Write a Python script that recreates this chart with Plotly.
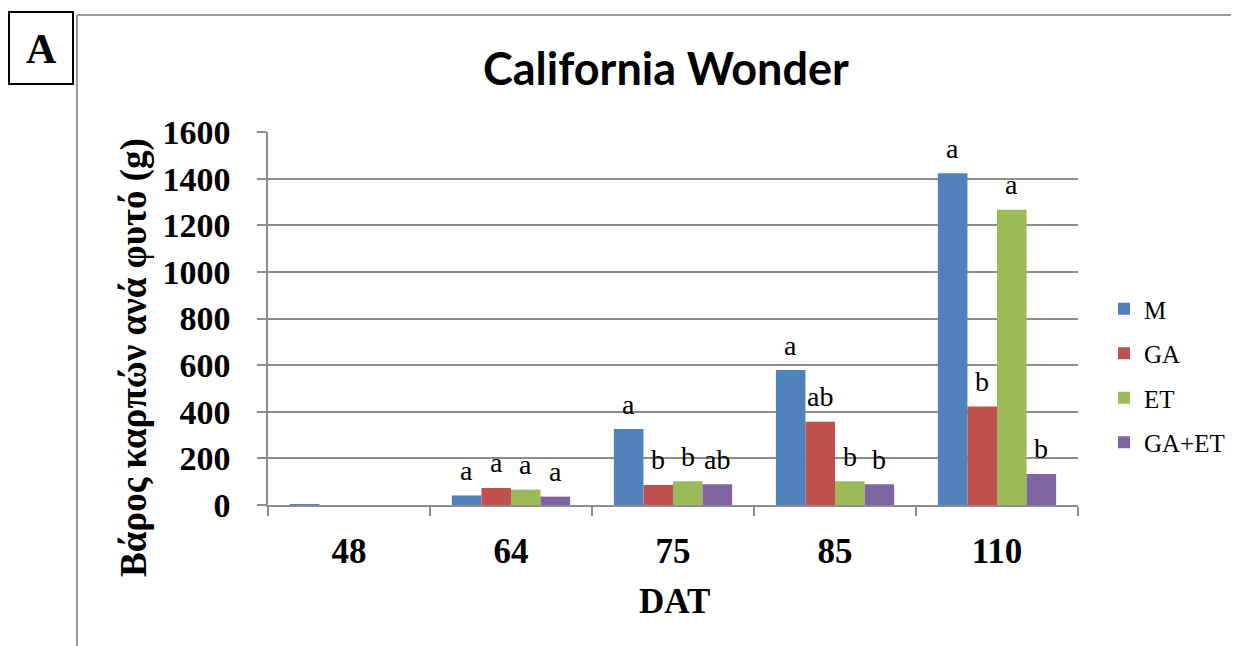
import plotly.graph_objects as go

# ---- data ----
categories = ["48", "64", "75", "85", "110"]
series_names = ["M", "GA", "ET", "GA+ET"]
m_values = [1, 41, 326, 579, 1423]
ga_values = [0, 73, 86, 357, 422]
et_values = [0, 66, 102, 102, 1266]
gaet_values = [0, 36, 89, 89, 133]
m_letters = ["", "a", "a", "a", "a"]
ga_letters = ["", "a", "b", "ab", "b"]
et_letters = ["", "a", "b", "b", "a"]
gaet_letters = ["", "a", "ab", "b", "b"]
y_ticks = [0, 200, 400, 600, 800, 1000, 1200, 1400, 1600]

colors = ["#4F81BD", "#C0504D", "#9BBB59", "#8064A2"]
all_values = [m_values, ga_values, et_values, gaet_values]
all_letters = [m_letters, ga_letters, et_letters, gaet_letters]

# page body has an 8px margin, so the figure is drawn from (8, 8)
OFF = 8
W, H = 1239 - OFF, 646 - OFF
L, R, T, B = 268 - OFF, 161, 132 - OFF, 141
PW, PH = W - L - R, H - T - B
GRID = "#8C8C8C"
SERIF = "Liberation Serif, Times New Roman, serif"


def px2x(px):
    # px is a screenshot pixel
    return (px - OFF - L) / PW


def py2y(py):
    return (H - B - (py - OFF)) / PH


fig = go.Figure()
for name, vals, col in zip(series_names, all_values, colors):
    fig.add_trace(go.Bar(
        x=categories, y=vals, name=name, legendgroup=name,
        marker=dict(color=col, line=dict(width=0)),
    ))

bar_px = PW / len(categories) * (1 - 0.27) / 4
annotations = []
for i, (vals, letters) in enumerate(zip(all_values, all_letters)):
    for j, (v, t) in enumerate(zip(vals, letters)):
        if t:
            annotations.append(dict(
                x=j, y=v, xref="x", yref="y", text=t, showarrow=False,
                xshift=(i - 1.5) * bar_px, yshift=25, yanchor="middle",
                font=dict(family=SERIF, size=28, color="black"),
            ))

# title
annotations.append(dict(
    x=px2x(666), y=py2y(68), xref="paper", yref="paper",
    text="<b>California Wonder</b>", showarrow=False,
    xanchor="center", yanchor="middle",
    font=dict(family="Lato, Open Sans, sans-serif", size=45, color="black"),
))
# axis titles
annotations.append(dict(
    x=px2x(674), y=py2y(601), xref="paper", yref="paper",
    text="<b>DAT</b>", showarrow=False, xanchor="center", yanchor="middle",
    font=dict(family=SERIF, size=35, color="black"),
))
annotations.append(dict(
    x=px2x(134), y=py2y(358), xref="paper", yref="paper",
    text="<b>Βάρος καρπών ανά φυτό (g)</b>", showarrow=False, textangle=-90,
    xanchor="center", yanchor="middle",
    font=dict(family=SERIF, size=37, color="black"),
))
# panel letter
annotations.append(dict(
    x=px2x(41), y=py2y(49), xref="paper", yref="paper",
    text="<b>A</b>", showarrow=False, xanchor="center", yanchor="middle",
    font=dict(family=SERIF, size=42, color="black"),
))

shapes = [
    dict(type="rect", xref="paper", yref="paper",
         x0=px2x(9), x1=px2x(73), y0=py2y(12), y1=py2y(84),
         line=dict(color="black", width=2)),
    dict(type="line", xref="paper", yref="paper",
         x0=px2x(77), x1=px2x(1250), y0=py2y(15), y1=py2y(15),
         line=dict(color="#999999", width=2)),
    dict(type="line", xref="paper", yref="paper",
         x0=px2x(77), x1=px2x(77), y0=py2y(15), y1=py2y(660),
         line=dict(color="#999999", width=2)),
]

fig.update_layout(
    width=W, height=H,
    margin=dict(l=L, r=R, t=T, b=B, autoexpand=False),
    paper_bgcolor="white", plot_bgcolor="white",
    barmode="group", bargap=0.27, bargroupgap=0,
    showlegend=True,
    legend=dict(
        x=px2x(1104), y=py2y(286), xanchor="left", yanchor="top",
        font=dict(family=SERIF, size=25, color="black"),
        traceorder="grouped", tracegroupgap=9,
        bgcolor="rgba(0,0,0,0)",
    ),
    annotations=annotations,
    shapes=shapes,
)
fig.update_xaxes(
    type="category", categoryorder="array", categoryarray=categories,
    range=[-0.5, len(categories) - 0.5],
    tickson="boundaries",
    ticks="outside", ticklen=9, tickcolor=GRID, tickwidth=1.5,
    showline=True, linecolor=GRID, linewidth=1.5,
    showgrid=False,
    tickfont=dict(family=SERIF, size=35, color="black", weight="bold"),
    ticklabelstandoff=14,
)
fig.update_yaxes(
    range=[0, 1600], tickvals=y_ticks,
    ticks="outside", ticklen=9, tickcolor=GRID, tickwidth=1.5,
    showline=True, linecolor=GRID, linewidth=1.5,
    showgrid=True, gridcolor=GRID, gridwidth=1.5,
    zeroline=False,
    tickfont=dict(family=SERIF, size=34, color="black", weight="bold"),
    ticklabelstandoff=20,
)

fig.write_html("out.html")
